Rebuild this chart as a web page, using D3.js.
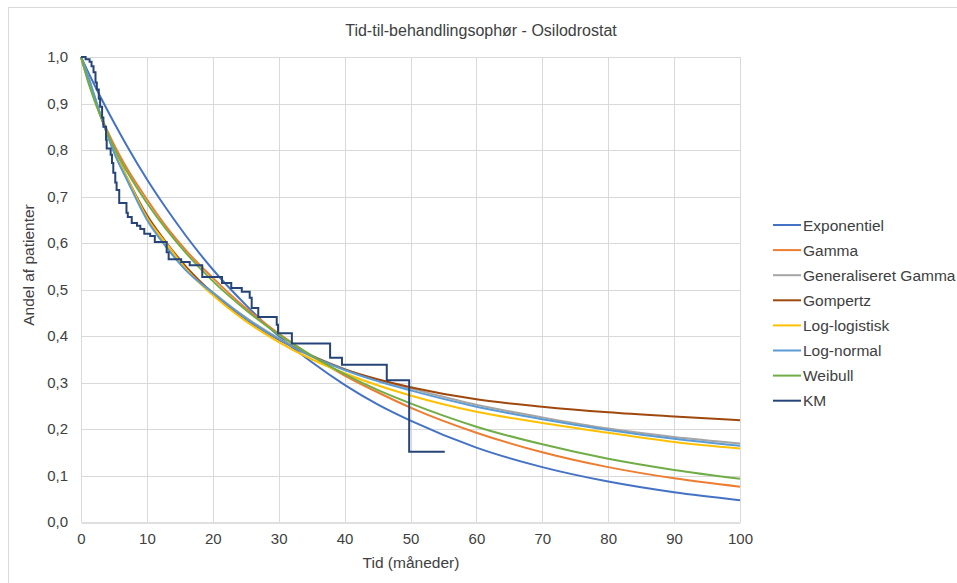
<!DOCTYPE html>
<html>
<head>
<meta charset="utf-8">
<script src="https://cdn.jsdelivr.net/npm/d3@7"></script>
<style>
  html, body { margin: 0; padding: 0; background: #fff; }
  svg { display: block; font-family: "Liberation Sans", Arial, sans-serif; }
</style>
</head>
<body>
<svg id="chart" width="957" height="583"></svg>
<script>
// ---- Data ----
const fitTimes = [0,1,2,3,5,7,10,13,16,20,25,30,35,40,45,50,60,70,80,90,100];

const exponentiel = [1,0.970,0.941,0.913,0.859,0.808,0.737,0.673,0.614,0.543,0.467,0.400,0.344,0.295,0.253,0.218,0.160,0.118,0.087,0.064,0.047];
const gamma       = [1,0.955,0.912,0.874,0.812,0.760,0.694,0.634,0.583,0.525,0.460,0.405,0.357,0.315,0.279,0.246,0.192,0.150,0.118,0.094,0.076];
const genGamma    = [1,0.962,0.918,0.874,0.797,0.737,0.655,0.593,0.542,0.494,0.440,0.395,0.358,0.329,0.305,0.287,0.252,0.225,0.201,0.183,0.169];
const gompertz    = [1,0.955,0.912,0.872,0.800,0.740,0.660,0.600,0.548,0.492,0.436,0.392,0.357,0.328,0.307,0.290,0.264,0.248,0.236,0.227,0.219];
const logLogistic = [1,0.955,0.912,0.872,0.800,0.740,0.655,0.598,0.543,0.488,0.432,0.387,0.350,0.320,0.294,0.272,0.237,0.213,0.192,0.172,0.158];
const logNormal   = [1,0.962,0.918,0.874,0.795,0.735,0.650,0.590,0.540,0.493,0.438,0.393,0.356,0.327,0.303,0.283,0.248,0.221,0.198,0.179,0.164];
const weibull     = [1,0.950,0.908,0.872,0.805,0.753,0.686,0.628,0.577,0.518,0.456,0.403,0.358,0.318,0.284,0.255,0.205,0.167,0.136,0.112,0.093];

const kmTime = [0,0.7,1.3,1.6,1.9,2.2,2.4,2.7,2.9,3.2,3.4,3.8,3.9,4.5,4.7,4.9,5.2,5.4,5.8,6.9,7.1,7.7,8.5,9.0,9.6,10.5,11.2,13.0,13.3,15.2,16.5,18.4,21.4,22.8,24.4,25.6,25.9,26.9,29.7,29.9,32.0,37.8,39.6,46.4,49.8,55.2];
const kmSurv = [1.0,0.995,0.99,0.98,0.967,0.945,0.93,0.91,0.893,0.87,0.85,0.822,0.803,0.79,0.772,0.751,0.73,0.714,0.686,0.665,0.656,0.643,0.637,0.63,0.62,0.615,0.602,0.58,0.565,0.559,0.552,0.527,0.514,0.503,0.495,0.482,0.46,0.441,0.424,0.406,0.384,0.353,0.338,0.305,0.151,0.151];

const seriesNames  = ["Exponentiel","Gamma","Generaliseret Gamma","Gompertz","Log-logistisk","Log-normal","Weibull","KM"];
const seriesColors = ["#4472C4","#ED7D31","#A5A5A5","#9E480E","#FFC000","#5B9BD5","#70AD47","#264478"];
const fitSeries = [exponentiel, gamma, genGamma, gompertz, logLogistic, logNormal, weibull];

const xTicks = [0,10,20,30,40,50,60,70,80,90,100];
const yTicks = [0,0.1,0.2,0.3,0.4,0.5,0.6,0.7,0.8,0.9,1.0];

const titleText = "Tid-til-behandlingsophør - Osilodrostat";
const xLabel = "Tid (måneder)";
const yLabel = "Andel af patienter";

// ---- Drawing ----
const svg = d3.select("#chart");
const plot = { left: 81, right: 740, top: 57, bottom: 522 };

svg.append("rect").attr("x", 8.5).attr("y", 7.5).attr("width", 1000).attr("height", 1000)
  .attr("fill", "none").attr("stroke", "#d9d9d9");

const x = d3.scaleLinear().domain([0, 100]).range([plot.left, plot.right]);
const y = d3.scaleLinear().domain([0, 1]).range([plot.bottom, plot.top]);

// gridlines
const grid = svg.append("g");
grid.selectAll("line.h").data(yTicks.filter(d => d > 0)).enter().append("line")
  .attr("x1", plot.left).attr("x2", plot.right)
  .attr("y1", d => Math.round(y(d)) + 0.5).attr("y2", d => Math.round(y(d)) + 0.5)
  .attr("stroke", "#d9d9d9").attr("stroke-width", 1);
grid.selectAll("line.v").data(xTicks).enter().append("line")
  .attr("x1", d => Math.round(x(d)) + 0.5).attr("x2", d => Math.round(x(d)) + 0.5)
  .attr("y1", plot.top).attr("y2", plot.bottom)
  .attr("stroke", "#d9d9d9").attr("stroke-width", 1);

// axes
const fmtY = d => d3.format(".1f")(d).replace(".", ",");
const xAxis = svg.append("g").attr("transform", `translate(0,${Math.round(plot.bottom) + 0.5})`)
  .call(d3.axisBottom(x).tickValues(xTicks).tickSize(0).tickPadding(11).tickFormat(d3.format("d")));
xAxis.select(".domain").attr("stroke", "#bfbfbf");
xAxis.selectAll("text").attr("fill", "#404040").attr("font-size", 15);

const yAxis = svg.append("g").attr("transform", `translate(${plot.left},0)`)
  .call(d3.axisLeft(y).tickValues(yTicks).tickSize(0).tickPadding(13).tickFormat(fmtY));
yAxis.select(".domain").remove();
yAxis.selectAll("text").attr("fill", "#404040").attr("font-size", 15);

// fitted curves
const line = d3.line().x(d => x(d[0])).y(d => y(d[1])).curve(d3.curveMonotoneX);
fitSeries.forEach((vals, i) => {
  svg.append("path")
    .datum(fitTimes.map((t, j) => [t, vals[j]]))
    .attr("d", line)
    .attr("fill", "none")
    .attr("stroke", seriesColors[i])
    .attr("stroke-width", 2)
    .attr("stroke-linejoin", "round");
});

// KM step curve
const kmLine = d3.line().x(d => x(d[0])).y(d => y(d[1])).curve(d3.curveStepAfter);
svg.append("path")
  .datum(kmTime.map((t, j) => [t, kmSurv[j]]))
  .attr("d", kmLine)
  .attr("fill", "none")
  .attr("stroke", seriesColors[7])
  .attr("stroke-width", 2);

// title & labels
svg.append("text").attr("x", 481).attr("y", 36).attr("text-anchor", "middle")
  .attr("font-size", 16).attr("fill", "#404040").text(titleText);
svg.append("text").attr("x", 411).attr("y", 568).attr("text-anchor", "middle")
  .attr("font-size", 15.5).attr("fill", "#404040").text(xLabel);
svg.append("text").attr("transform", "translate(34,265) rotate(-90)").attr("text-anchor", "middle")
  .attr("font-size", 15.5).attr("fill", "#404040").text(yLabel);

// legend
const legend = svg.append("g");
seriesNames.forEach((name, i) => {
  const ly = 225 + i * 25.1;
  legend.append("line").attr("x1", 773).attr("x2", 801).attr("y1", ly).attr("y2", ly)
    .attr("stroke", seriesColors[i]).attr("stroke-width", 2);
  legend.append("text").attr("x", 803).attr("y", ly + 5.5)
    .attr("font-size", 15.5).attr("fill", "#404040").text(name);
});
</script>
</body>
</html>
